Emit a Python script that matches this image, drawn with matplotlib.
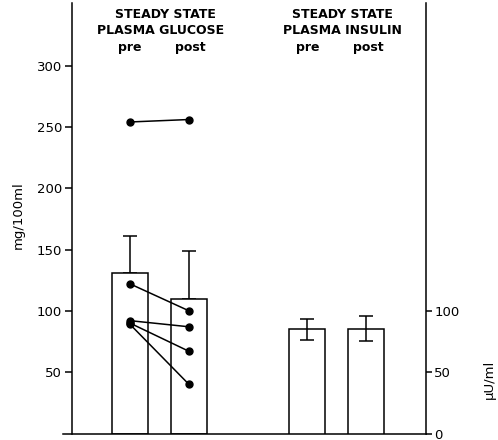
import numpy as np
import matplotlib.pyplot as plt

# glucose (mg/100ml), bars are mean with upward SD
glu_labels = ['pre', 'post']
glu_mean = [131, 110]
glu_sd = [30, 39]
# individual subjects, pre -> post
glu_pre = [254, 122, 92, 90, 89]
glu_post = [256, 100, 87, 67, 40]

# insulin (uU/ml)
ins_labels = ['pre', 'post']
ins_mean = [85, 85.5]
ins_sd = [8.5, 10]

glu_x = np.array([0, 1])
ins_x = np.array([3, 4])

plt.rcParams['font.family'] = 'DejaVu Sans'

fig = plt.figure(figsize=(4.98, 4.40), dpi=100)
ax = fig.add_axes([63 / 498, 6.5 / 440, 363 / 498, 430.5 / 440])

lw = 1.1
ax.bar(glu_x, glu_mean, width=0.61, color='white', edgecolor='k', linewidth=lw, zorder=2)
ax.errorbar(glu_x, glu_mean, yerr=[[0, 0], glu_sd], fmt='none', ecolor='k',
            elinewidth=lw, capsize=5, capthick=lw, zorder=1)
for a, b in zip(glu_pre, glu_post):
    ax.plot(glu_x, [a, b], '-o', color='k', linewidth=lw, markersize=5, zorder=3)

ax.set_xlim(-1.136, 5.017)
ax.set_ylim(0, 351)
ax.spines['top'].set_visible(False)
ax.spines['right'].set_visible(False)
ax.spines['left'].set_position(('data', -0.983))
for s in ['left', 'bottom']:
    ax.spines[s].set_linewidth(lw)
ax.set_xticks([])
ax.set_yticks([50, 100, 150, 200, 250, 300])
ax.tick_params(axis='y', direction='out', length=5, width=lw, labelsize=9.5, pad=2)
fig.text(18 / 498, 1 - 215 / 440, 'mg/100ml', rotation=90, fontsize=9.5,
         ha='center', va='center')

ax2 = ax.twinx()
ax2.set_ylim(ax.get_ylim())
ax2.bar(ins_x, ins_mean, width=0.61, color='white', edgecolor='k', linewidth=lw, zorder=2)
ax2.errorbar(ins_x, ins_mean, yerr=ins_sd, fmt='none', ecolor='k',
             elinewidth=lw, capsize=5, capthick=lw, zorder=3)
for s in ['top', 'left', 'bottom']:
    ax2.spines[s].set_visible(False)
ax2.spines['right'].set_linewidth(lw)
ax2.set_yticks([0, 50, 100])
ax2.tick_params(axis='y', direction='out', length=4, width=lw, labelsize=9.5, pad=2)
fig.text(489 / 498, 1 - 379 / 440, 'μU/ml', rotation=90, fontsize=9.5,
         ha='center', va='center')

hdr = dict(fontsize=9, fontweight='bold', ha='center', va='center')
fig.text(165 / 498, 1 - 14 / 440, 'STEADY STATE', **hdr)
fig.text(161 / 498, 1 - 31 / 440, 'PLASMA GLUCOSE', **hdr)
fig.text(342 / 498, 1 - 14 / 440, 'STEADY STATE', **hdr)
fig.text(342 / 498, 1 - 31 / 440, 'PLASMA INSULIN', **hdr)
for xp, lab in zip([130, 190], glu_labels):
    fig.text(xp / 498, 1 - 48 / 440, lab, **hdr)
for xp, lab in zip([308, 368], ins_labels):
    fig.text(xp / 498, 1 - 48 / 440, lab, **hdr)

fig.savefig('out.png', dpi=100)
